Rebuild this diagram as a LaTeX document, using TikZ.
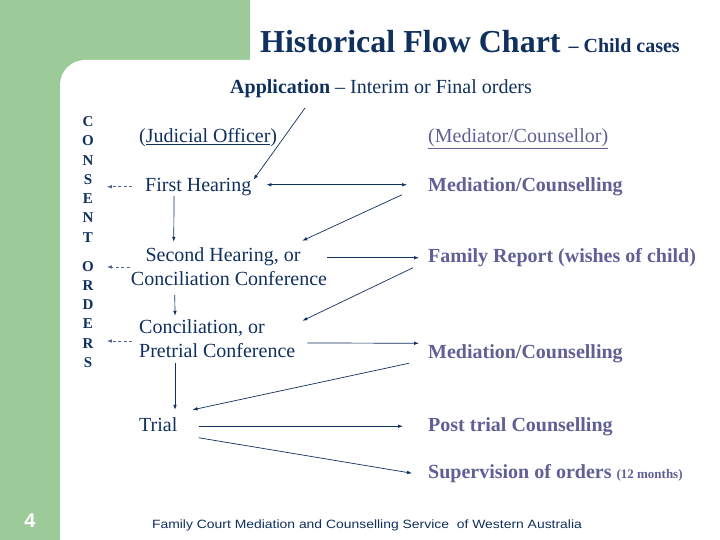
\documentclass[tikz,border=0pt]{standalone}
\usepackage{fontspec}
\setmainfont{Liberation Serif}
\setsansfont{Liberation Sans}
\newfontfamily\footfont[FakeStretch=1.16]{Liberation Sans}
\usetikzlibrary{arrows.meta}
\definecolor{leaf}{RGB}{156,203,153}
\definecolor{navy}{RGB}{16,48,95}
\definecolor{slate}{RGB}{96,96,150}

\begin{document}
\begin{tikzpicture}[x=1pt,y=-1pt]
        \tikzstyle{words}=[inner sep=0pt,text=navy,font=\fontsize{20}{24}\selectfont]
        \tikzstyle{court}=[words,anchor=base west,text height=14pt,text depth=4.5pt]
        \tikzstyle{service}=[court,text=slate,font=\bfseries\fontsize{20}{24}\selectfont]
        \tikzstyle{letter}=[inner sep=0pt,anchor=base,minimum width=12pt,text=navy,font=\bfseries\fontsize{15}{18}\selectfont]
        \tikzstyle{flow}=[-{Latex[length=5pt,width=3.6pt]},navy,line width=0.7pt]
        \tikzstyle{twoway}=[flow,{Latex[length=5pt,width=3.6pt]}-{Latex[length=5pt,width=3.6pt]}]
        \tikzstyle{consent}=[flow,dash pattern=on 3pt off 2.5pt,navy!75]
        \useasboundingbox (0,0) rectangle (720,540);
        \fill[leaf] (0,0) rectangle (250,100);
        \fill[leaf] (0,0) rectangle (100,540);
        \fill[white,rounded corners=25pt] (60,60) rectangle (800,620);
        \node[court,text height=,text depth=] (title) at (260,52.3)
          {\bfseries\fontsize{32}{36}\selectfont Historical Flow Chart {\fontsize{20}{24}\selectfont – Child cases}};
        \node[court] (app) at (230,93.3) {\textbf{Application} – Interim or Final orders};
        % court side
        \node[court] (jo) at (139,142.5) {(\underline{Judicial Officer})};
        \node[court] (fh) at (145,191.5) {First Hearing};
        \node[words,align=center] (sh) at (229,267) {Second Hearing, or\hspace*{12pt}\\Conciliation Conference};
        \node[words,align=left,anchor=west] (cp) at (139,339) {Conciliation, or\\Pretrial Conference};
        \node[court] (tr) at (139,431) {Trial};
        % counselling side
        \node[court,text=slate] (mc0) at (428,142.5) {\underline{(Mediator/Counsellor)}};
        \node[service] (mc1) at (428,191.5) {Mediation/Counselling};
        \node[service] (fr) at (428,262.5) {Family Report (wishes of child)};
        \node[service] (mc2) at (428,358) {Mediation/Counselling};
        \node[service] (pt) at (428,431) {Post trial Counselling};
        \node[service] (so) at (428,478) {Supervision of orders {\fontsize{13}{15}\selectfont (12 months)}};
        % consent orders
        \foreach \ch [count=\i] in {C,O,N,S,E,N,T}
          \node[letter] (c\i) at (88,107.45+19.25*\i) {\ch};
        \foreach \ch [count=\i] in {O,R,D,E,R,S}
          \node[letter] (o\i) at (88,251.75+19.25*\i) {\ch};
        \draw[consent] ([xshift=-13pt]fh.west) -- ([xshift=12.7pt]fh.west -| c4.east);
        \draw[consent] ([xshift=-1pt]sh.west) -- ([xshift=12.7pt]sh.west -| o1.east);
        \draw[consent] ([xshift=-7pt,yshift=-2pt]cp.west) -- ([xshift=12.7pt,yshift=-2pt]cp.west -| o5.east);
        % arrows
        \draw[flow] ([xshift=75pt,yshift=-10pt]app.south west) -- ([xshift=2pt,yshift=7pt]fh.east);
        \draw[twoway] ([xshift=15pt,yshift=2pt]fh.east) -- ([xshift=-21pt,yshift=2pt]mc1.west);
        \draw[flow] ([xshift=-26pt,yshift=-8pt]mc1.west) -- ([xshift=-25pt,yshift=7pt]sh.north east);
        \draw[flow] ([xshift=29pt]fh.south west) -- ([xshift=43pt,yshift=6pt]sh.north west);
        \draw[flow] (sh.east |- fr.west) -- ([xshift=-9pt]fr.west);
        \draw[flow] ([xshift=-15pt,yshift=-10pt]fr.west) -- ([xshift=7pt,yshift=-1pt]cp.north east);
        \draw[flow] ([xshift=44pt,yshift=-9pt]sh.south west) -- ([xshift=36pt,yshift=4pt]cp.north west);
        \draw[flow] ([xshift=12pt,yshift=-4pt]cp.east) -- ([xshift=-9pt,yshift=10pt]mc2.west);
        \draw[flow] ([xshift=-19pt,yshift=-10pt]mc2.west) -- ([xshift=15pt,yshift=7pt]tr.north east);
        \draw[flow] ([xshift=36pt,yshift=-5pt]cp.south west) -- ([xshift=36pt,yshift=7pt]tr.north west);
        \draw[flow] ([xshift=21pt]tr.east) -- ([xshift=-25pt]pt.west);
        \draw[flow] ([xshift=21pt,yshift=-2pt]tr.south east) -- ([xshift=-16pt]so.west);
        % footer
        \node[inner sep=0pt,text=white,font=\sffamily\bfseries\fontsize{20}{24}\selectfont] (page) at (30,521) {4};
        \node[inner sep=0pt,text=navy,font=\footfont\fontsize{12}{14}\selectfont] (foot) at (367,525)
          {Family Court Mediation and Counselling Service\ \ of Western Australia};
\end{tikzpicture}
\end{document}
